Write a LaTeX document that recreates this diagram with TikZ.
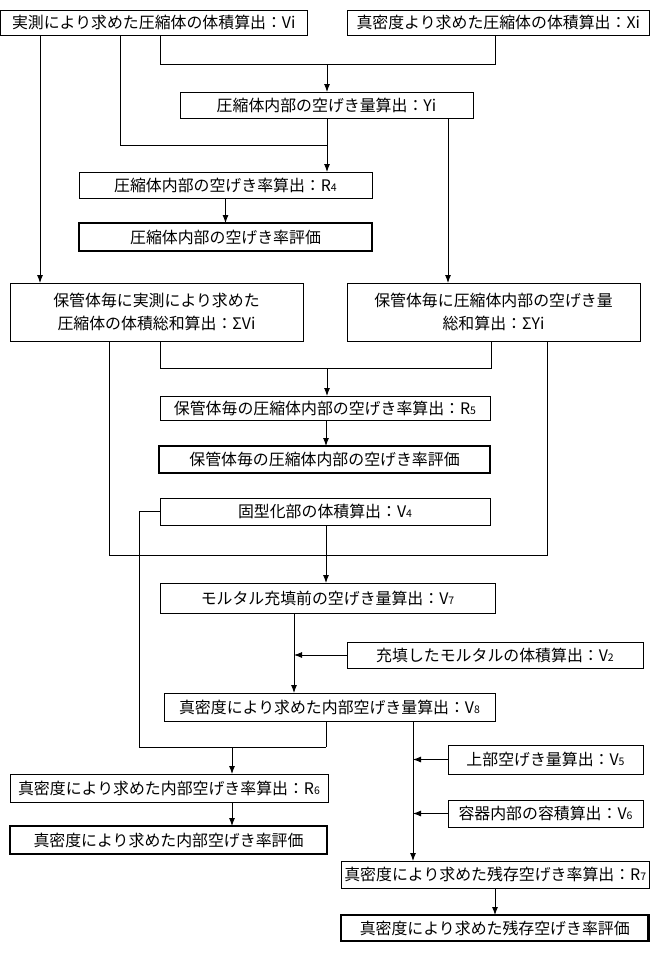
\documentclass[tikz,border=0pt]{standalone}
\usepackage{fontspec}
\setmainfont{Noto Sans CJK JP}
\usetikzlibrary{arrows.meta}
\newcommand{\smalld}[1]{{\fontsize{10.5}{10.5}\selectfont #1}}
\begin{document}
\begin{tikzpicture}[x=1pt,y=-1pt,
  box/.style={draw, line width=0.9pt, rectangle, inner sep=0pt, outer sep=0pt, anchor=north west,
    font=\fontsize{15.9}{23}\selectfont, align=center},
  evalbox/.style={box, line width=2.6pt},
  conn/.style={line width=0.9pt},
  arr/.style={conn, -{Latex[length=8pt,width=6pt]}}]
\useasboundingbox (0,0) rectangle (650,954);
% x and y levels
\foreach \v in {40,109,120,139,160,232,294,326,327,413,448,491,495,547} {\coordinate (c\v) at (\v,0);}
\foreach \v in {64,145,368,555,747} {\coordinate (y\v) at (0,\v);}
% boxes
\node[box, minimum width=306.5, minimum height=25] (A) at (0.5,10) {実測により求めた圧縮体の体積算出：Vi};
\node[box, minimum width=302.5, minimum height=25] (B) at (347,10) {真密度より求めた圧縮体の体積算出：Xi};
\node[box, minimum width=293, minimum height=26] (C) at (180,92) {圧縮体内部の空げき量算出：Yi};
\node[box, minimum width=293, minimum height=26] (D) at (79,172) {圧縮体内部の空げき率算出：R\smalld{4}};
\node[evalbox, minimum width=293, minimum height=28] (E) at (79,223) {圧縮体内部の空げき率評価};
\node[box, minimum width=293, minimum height=58] (F) at (10,283) {保管体毎に実測により求めた\\圧縮体の体積総和算出：ΣVi};
\node[box, minimum width=293, minimum height=58] (G) at (347,283) {保管体毎に圧縮体内部の空げき量\\総和算出：ΣYi};
\node[box, minimum width=330, minimum height=24] (H) at (160,396) {保管体毎の圧縮体内部の空げき率算出：R\smalld{5}};
\node[evalbox, minimum width=331, minimum height=27] (I) at (159,446) {保管体毎の圧縮体内部の空げき率評価};
\node[box, minimum width=330, minimum height=27] (J) at (160,498) {固型化部の体積算出：V\smalld{4}};
\node[box, minimum width=335, minimum height=30] (K) at (160,583) {モルタル充填前の空げき量算出：V\smalld{7}};
\node[box, minimum width=296, minimum height=26] (L) at (347,642) {充填したモルタルの体積算出：V\smalld{2}};
\node[box, minimum width=331, minimum height=28] (M) at (164,693) {真密度により求めた内部空げき量算出：V\smalld{8}};
\node[box, minimum width=195, minimum height=29] (Q) at (448,745) {上部空げき量算出：V\smalld{5}};
\node[box, minimum width=195, minimum height=27] (R) at (448,800) {容器内部の容積算出：V\smalld{6}};
\node[box, minimum width=318, minimum height=28] (N) at (10,774) {真密度により求めた内部空げき率算出：R\smalld{6}};
\node[evalbox, minimum width=317, minimum height=28] (O) at (10,826) {真密度により求めた内部空げき率評価};
\node[box, minimum width=308.5, minimum height=27] (P) at (341,861) {真密度により求めた残存空げき率算出：R\smalld{7}};
\node[evalbox, minimum width=307.5, minimum height=26] (S) at (341,915) {真密度により求めた残存空げき率評価};
% connectors
\draw[arr] (A.south -| c40) -- (F.north -| c40);
\draw[conn] (A.south -| c160) -- (c160 |- y64) -- (c495 |- y64) -- (B.south -| c495);
\draw[arr] (c327 |- y64) -- (C.north -| c327);
\draw[arr] (C.south -| c327) -- (D.north -| c327);
\draw[conn] (A.south -| c120) -- (c120 |- y145) -- (c327 |- y145);
\draw[arr] (C.south -| c448) -- (G.north -| c448);
\draw[arr] (D.south) -- (E.north);
\draw[conn] (F.south -| c160) -- (c160 |- y368) -- (c491 |- y368) -- (G.south -| c491);
\draw[arr] (c327 |- y368) -- (H.north -| c327);
\draw[arr] (H.south -| c326) -- (I.north -| c326);
\draw[conn] (F.south -| c109) -- (c109 |- y555) -- (c547 |- y555) -- (G.south -| c547);
\draw[arr] (J.south -| c326) -- (K.north -| c326);
\draw[conn] (J.west) -- (c139 |- J.west) -- (c139 |- y747) -- (c326 |- y747);
\draw[conn] (M.south -| c326) -- (c326 |- y747);
\draw[arr] (c232 |- y747) -- (N.north -| c232);
\draw[arr] (N.south -| c232) -- (O.north -| c232);
\draw[arr] (K.south -| c294) -- (M.north -| c294);
\draw[arr] (L.west) -- (L.west -| c294);
\draw[arr] (M.south -| c413) -- (P.north -| c413);
\draw[arr] (Q.west) -- (Q.west -| c413);
\draw[arr] (R.west) -- (R.west -| c413);
\draw[arr] (P.south -| c495) -- (S.north -| c495);
\end{tikzpicture}
\end{document}
